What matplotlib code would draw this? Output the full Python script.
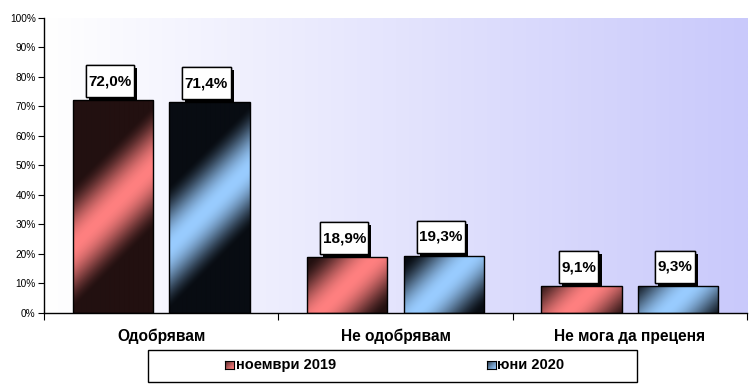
import numpy as np
import matplotlib
matplotlib.use("Agg")
import matplotlib.pyplot as plt
import matplotlib.patches as mpatches
import matplotlib.patheffects as pe
from matplotlib.path import Path

# ---- data ----
categories = ['Одобрявам', 'Не одобрявам', 'Не мога да преценя']
series_names = ['ноември 2019', 'юни 2020']
nov2019 = [72.0, 18.9, 9.1]
jun2020 = [71.4, 19.3, 9.3]
yticks = list(range(0, 101, 10))

plt.rcParams['font.family'] = ['Liberation Sans', 'DejaVu Sans']

W, H = 752, 391
fig = plt.figure(figsize=(W / 100, H / 100), dpi=100)
fig.patch.set_facecolor('white')

ax_l, ax_r, ax_t, ax_b = 44, 747, 17.5, 313
ax = fig.add_axes([ax_l / W, (H - ax_b) / H, (ax_r - ax_l) / W, (ax_b - ax_t) / H])
ax.set_xlim(-0.5, len(categories) - 0.5)
ax.set_ylim(0, 100)
ax.set_facecolor('none')

# background gradient (white -> lavender)
grad = np.linspace(0, 1, 256)
c0 = np.array([1.0, 1.0, 1.0])
c1 = np.array([0xC9, 0xC9, 0xFB]) / 255
bg = (c0[None, :] * (1 - grad[:, None]) + c1[None, :] * grad[:, None])[None, :, :]
ax.imshow(bg, extent=(0, 1, 0, 1), transform=ax.transAxes, aspect='auto', zorder=0,
          interpolation='bilinear')

for s in ['top', 'right']:
    ax.spines[s].set_visible(False)
for s in ['left', 'bottom']:
    ax.spines[s].set_linewidth(1.0)
    ax.spines[s].set_color('black')

ax.set_yticks(yticks)
ax.set_yticklabels([f'{t}%' for t in yticks], fontsize=7.3)
ax.tick_params(axis='y', direction='out', length=4, width=0.8, pad=2)
ax.set_xticks(np.arange(len(categories) + 1) - 0.5)
ax.set_xticklabels([])
ax.tick_params(axis='x', direction='out', length=5, width=0.8)
for i, c in enumerate(categories):
    ax.text(i, -23 / (ax_b - ax_t), c, transform=ax.get_xaxis_transform(),
            ha='center', va='center', fontsize=11.2, fontweight='bold')

bw = 0.343
off = 0.206
dark = [np.array([0x22, 0x10, 0x10]) / 255, np.array([0x08, 0x0C, 0x12]) / 255]
bright = [np.array([0xFF, 0x80, 0x80]) / 255, np.array([0x99, 0xCC, 0xFF]) / 255]


def bar_gradient(patch, k):
    x0, y0 = patch.get_x(), patch.get_y()
    x1, y1 = x0 + patch.get_width(), y0 + patch.get_height()
    (px0, py0), (px1, py1) = ax.transData.transform([(x0, y0), (x1, y1)])
    nw, nh = max(int(round(px1 - px0)), 2), max(int(round(py1 - py0)), 2)
    xs = np.linspace(px0, px1, nw) - (px0 + px1) / 2
    ys = np.linspace(py0, py1, nh) - (py0 + py1) / 2
    X, Y = np.meshgrid(xs, ys)
    d = Y - X
    w = 62.0
    f = np.clip(1 - np.abs(d) / w, 0, 1)
    f = np.sin(f * np.pi / 2) ** 1.6
    img = dark[k][None, None, :] * (1 - f[..., None]) + bright[k][None, None, :] * f[..., None]
    im = ax.imshow(img, extent=(x0, x1, y0, y1), origin='lower', aspect='auto',
                   zorder=2, interpolation='bilinear')
    im.set_clip_path(patch)


def box_style(x0, y0, width, height, mutation_size):
    px, py = 2.5, 9.0
    return Path.unit_rectangle().transformed(
        matplotlib.transforms.Affine2D().scale(width + 2 * px, height + 2 * py)
        .translate(x0 - px, y0 - py))


x = np.arange(len(categories))
for k, vals in enumerate([nov2019, jun2020]):
    pos = x + (-off if k == 0 else off)
    bars = ax.bar(pos, vals, width=bw, facecolor='none', edgecolor='black',
                  linewidth=1.0, zorder=3)
    for p in bars:
        bar_gradient(p, k)
    for xi, v in zip(pos, vals):
        t = ax.annotate(f'{v:.1f}'.replace('.', ',') + '%', xy=(xi, v),
                        xytext=(-3, 12), textcoords='offset pixels',
                        ha='center', va='bottom', fontsize=11, fontweight='bold',
                        zorder=5,
                        bbox=dict(boxstyle=box_style, facecolor='white',
                                  edgecolor='black', linewidth=1.0))
        t.get_bbox_patch().set_path_effects([
            pe.withSimplePatchShadow(offset=(2.2, -2.2), shadow_rgbFace='black', alpha=1.0),
            pe.Normal()])

# ---- legend (manual box) ----
lx0, lx1, ly0, ly1 = 148, 637, 350, 382
fig.patches.append(mpatches.Rectangle((lx0 / W, (H - ly1) / H), (lx1 - lx0) / W, (ly1 - ly0) / H,
                                      transform=fig.transFigure, facecolor='white',
                                      edgecolor='black', linewidth=1.0, zorder=-1))
cy = 365
for k, (mx, tx) in enumerate([(225, 236), (487, 497)]):
    s = 8.5
    g = np.linspace(0, 1, 16)
    GX, GY = np.meshgrid(g, g)
    f = np.clip((GX + (1 - GY)) / 2, 0, 1) ** 0.7
    img = dark[k][None, None, :] * (1 - f[..., None]) + bright[k][None, None, :] * f[..., None]
    lax = fig.add_axes([mx / W, (H - cy - s / 2) / H, s / W, s / H], zorder=2)
    lax.imshow(img, aspect='auto', origin='lower', interpolation='bilinear')
    lax.set_xticks([]); lax.set_yticks([])
    for sp in lax.spines.values():
        sp.set_linewidth(0.8)
    fig.text(tx / W, (H - cy) / H, series_names[k], ha='left', va='center',
             fontsize=10.5, fontweight='bold', zorder=3)

fig.savefig('out.png', dpi=100)
